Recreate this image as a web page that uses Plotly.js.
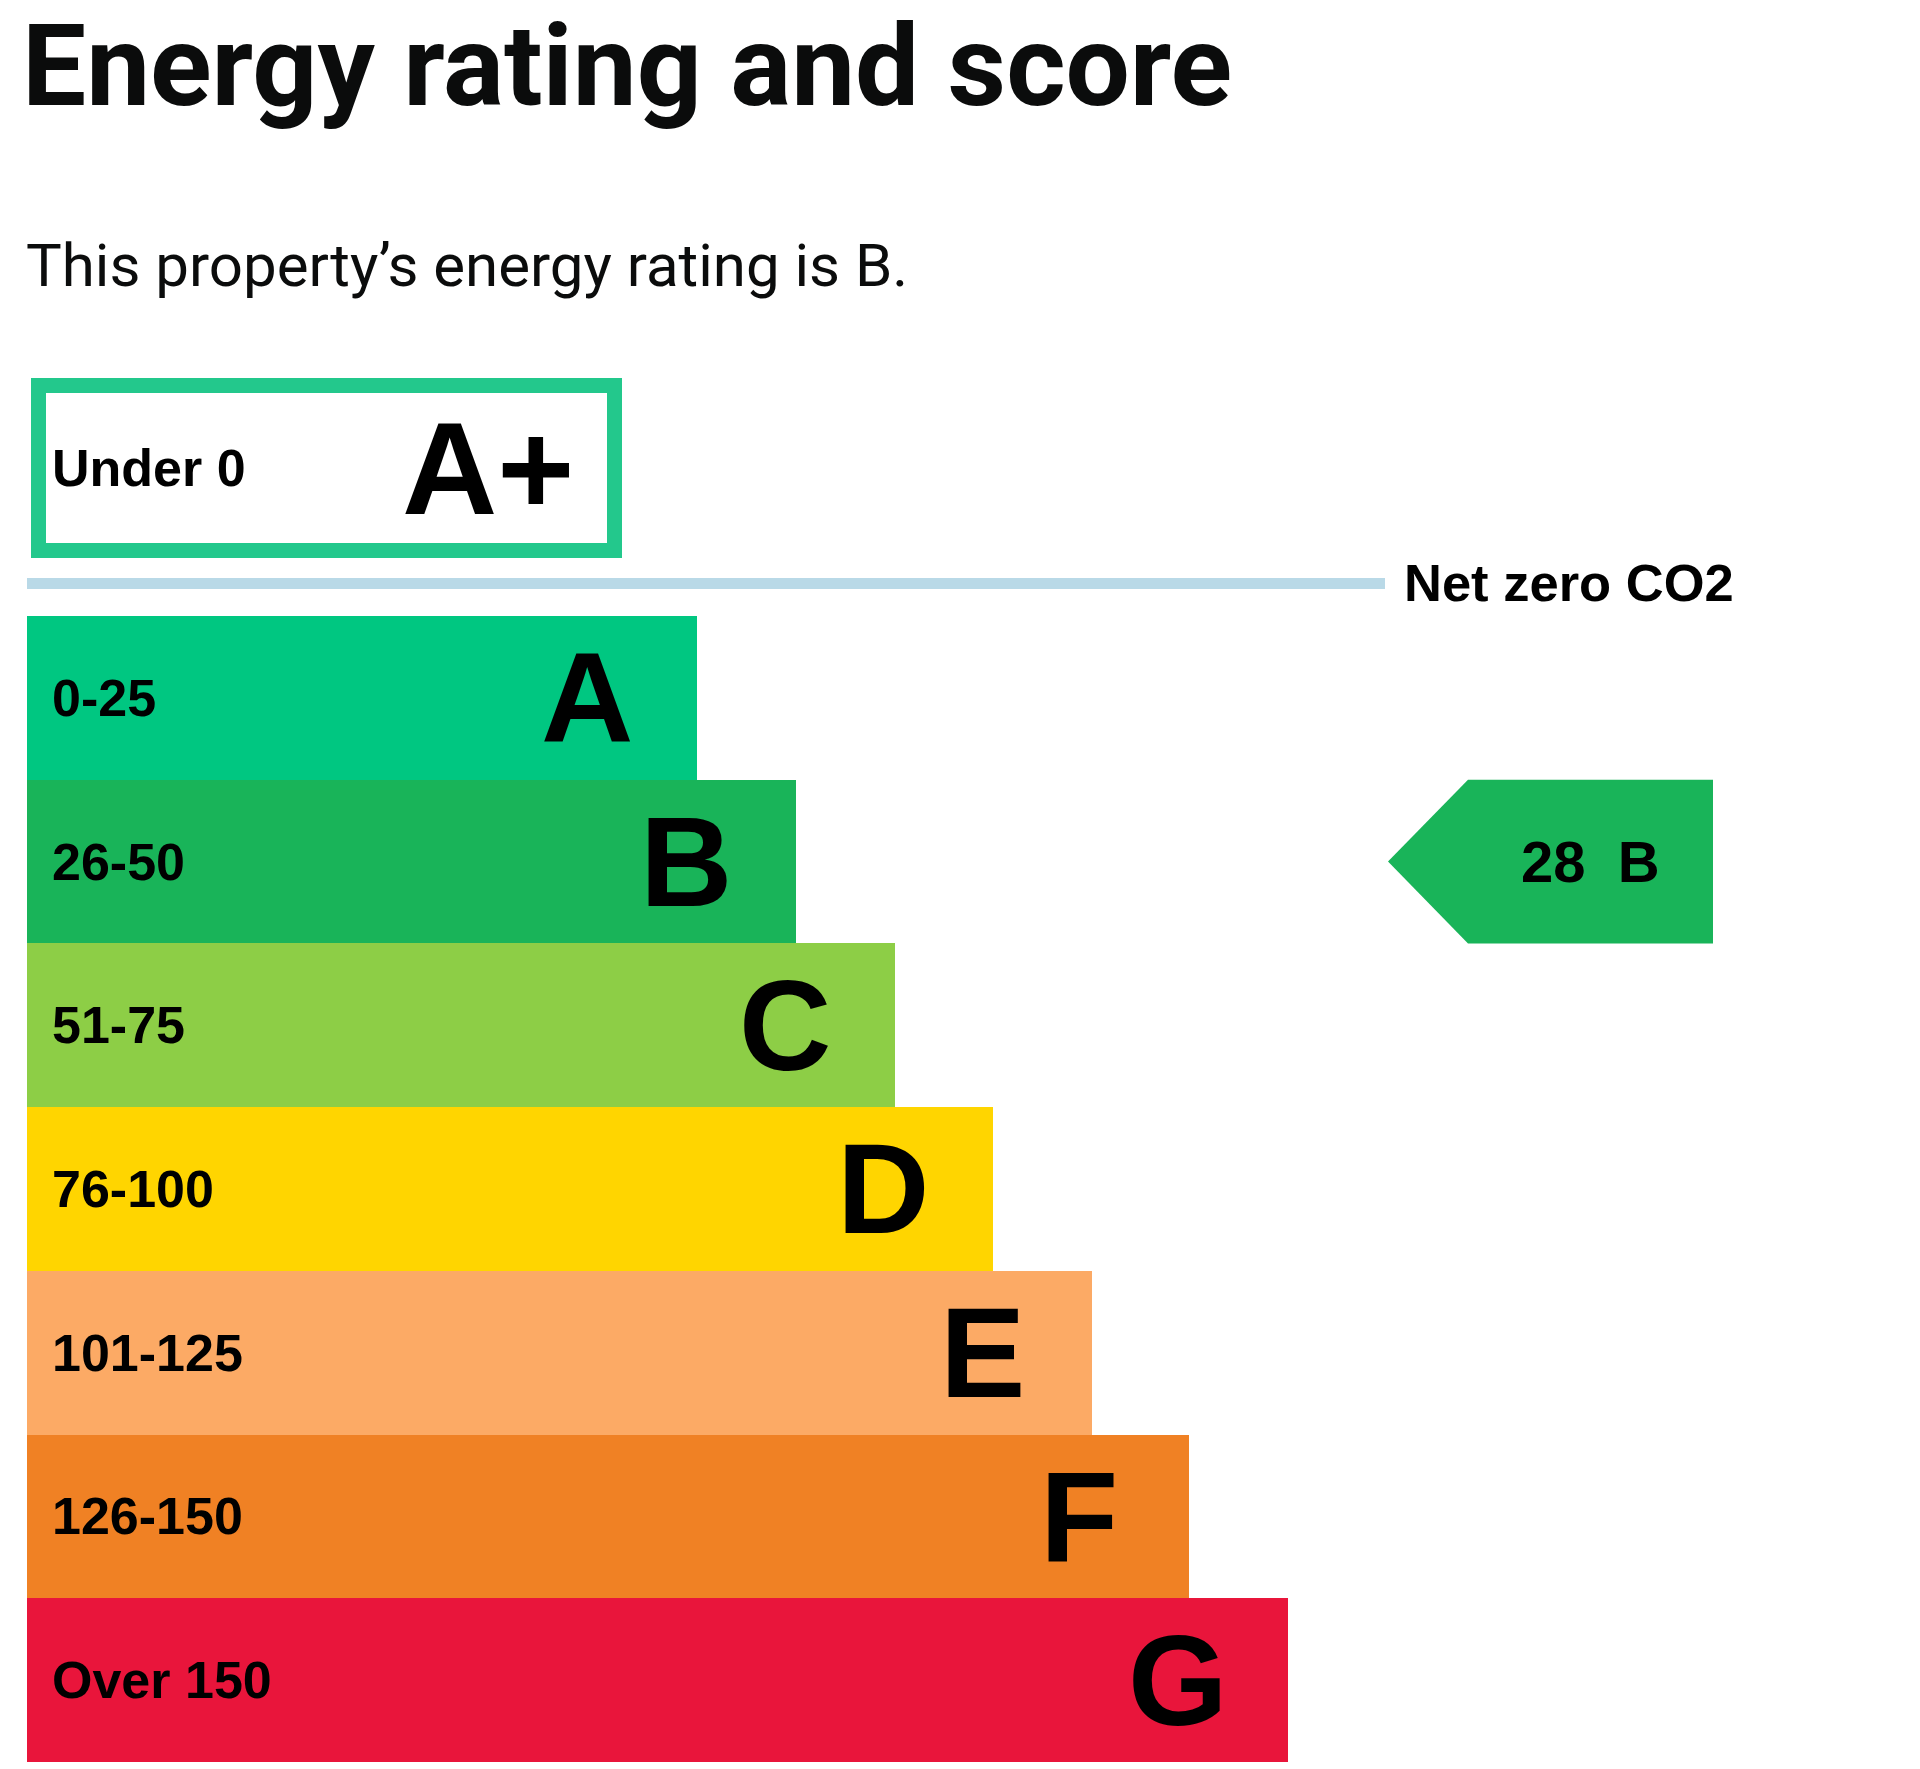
<!DOCTYPE html>
<html>
<head>
<meta charset="utf-8">
<script src="https://cdn.plot.ly/plotly-3.0.1.min.js"></script>
<style>
  html, body { margin: 0; padding: 0; background: #fff; }
  #chart { width: 1920px; height: 1769px; }
</style>
</head>
<body>
<div id="chart"></div>
<script>
// EPC bands, best at the top
const bands = ['A', 'B', 'C', 'D', 'E', 'F', 'G'];
const ranges = ['0-25', '26-50', '51-75', '76-100', '101-125', '126-150', 'Over 150'];
const barLengths = [670, 769, 868, 966, 1065, 1162, 1261];
const bandColors = ['#00c781', '#19b459', '#8dce46', '#ffd500', '#fcaa65', '#f08124', '#e9153b'];

// the A+ row sits above the net zero line, drawn as an outline
const topBand = ['A+'];
const topRange = ['Under 0'];
const topLength = [576];

const currentScore = 28;
const currentBand = 'B';

// page geometry (px)
const W = 1920, H = 1769;
const ROW = 163.7;        // height of one band
const BARS_TOP = 616;     // top edge of band A
const BAR_X0 = 27;
const BOX_TOP = 378, BOX_BOTTOM = 558, BOX_LINE = 15;
const py = p => 1 - p / H;  // px from top -> paper

const labelFont = 'Liberation Sans, Arial, sans-serif';

var bandTrace = {
  type: 'bar',
  orientation: 'h',
  y: bands,
  x: barLengths,
  base: BAR_X0,
  width: 1,
  marker: { color: bandColors, line: { width: 0 } },
  hoverinfo: 'skip'
};

var topTrace = {
  type: 'bar',
  orientation: 'h',
  y: topBand,
  x: topLength,
  base: BAR_X0 + 4 + BOX_LINE / 2,
  width: 1,
  yaxis: 'y2',
  marker: { color: '#ffffff', line: { color: '#23c88c', width: BOX_LINE } },
  hoverinfo: 'skip'
};

var annotations = [
  {
    text: 'Energy rating and score', xref: 'paper', yref: 'paper',
    x: 20 / W, y: py(66), xanchor: 'left', yanchor: 'middle', showarrow: false,
    font: { family: 'Roboto, sans-serif', size: 114, color: '#0b0c0c', weight: 700 }
  },
  {
    text: 'This property\u2019s energy rating is ' + currentBand + '.', xref: 'paper', yref: 'paper',
    x: 24 / W, y: py(265), xanchor: 'left', yanchor: 'middle', showarrow: false,
    font: { family: 'Roboto, sans-serif', size: 60, color: '#0b0c0c' }
  },
  {
    text: '<b>' + topRange[0] + '</b>', xref: 'x', yref: 'y2', x: 50, y: topBand[0],
    xanchor: 'left', yanchor: 'middle', showarrow: false,
    font: { family: labelFont, size: 52, color: '#000' }
  },
  {
    text: '<b>' + topBand[0] + '</b>', xref: 'x', yref: 'y2', x: 400, y: topBand[0],
    xanchor: 'left', yanchor: 'middle', showarrow: false,
    font: { family: labelFont, size: 132, color: '#000' }
  },
  {
    text: '<b>Net zero CO2</b>', xref: 'x', yref: 'paper', x: 1402, y: py(583),
    xanchor: 'left', yanchor: 'middle', showarrow: false,
    font: { family: labelFont, size: 52.5, color: '#000' }
  }
];

bands.forEach(function(b, i) {
  annotations.push({
    text: '<b>' + ranges[i] + '</b>', xref: 'x', yref: 'y', x: 50, y: b,
    xanchor: 'left', yanchor: 'middle', showarrow: false,
    font: { family: labelFont, size: 52, color: '#000' }
  });
  annotations.push({
    text: '<b>' + b + '</b>', xref: 'x', yref: 'y', x: BAR_X0 + barLengths[i] - 110, y: b,
    xanchor: 'center', yanchor: 'middle', showarrow: false,
    font: { family: labelFont, size: 128, color: '#000' }
  });
});

// current rating pointer
var ci = bands.indexOf(currentBand);
var tipX = 1388, bodyX = 1468, endX = 1713;
annotations.push({
  text: '<b>' + currentScore + '\u00a0\u00a0' + currentBand + '</b>', xref: 'x', yref: 'y',
  x: (bodyX + endX) / 2, y: currentBand, xanchor: 'center', yanchor: 'middle', showarrow: false,
  font: { family: labelFont, size: 58, color: '#000' }
});

var shapes = [
  {
    type: 'line', xref: 'x', yref: 'paper', x0: BAR_X0, x1: 1385, y0: py(583.5), y1: py(583.5),
    line: { color: '#b9d9e7', width: 11 }
  },
  {
    type: 'path', xref: 'x', yref: 'y', layer: 'above',
    path: 'M ' + tipX + ',' + ci +
          ' L ' + bodyX + ',' + (ci - 0.5) +
          ' L ' + endX + ',' + (ci - 0.5) +
          ' L ' + endX + ',' + (ci + 0.5) +
          ' L ' + bodyX + ',' + (ci + 0.5) + ' Z',
    fillcolor: bandColors[ci], line: { width: 0 }
  }
];

var yTop = -0.5 - BARS_TOP / ROW;
var yBottom = yTop + H / ROW;

// A+ axis: the whole outer box is the domain, the stroke centre spans one category
var boxHalf = 0.5 * (BOX_BOTTOM - BOX_TOP) / (BOX_BOTTOM - BOX_TOP - BOX_LINE);

var layout = {
  width: W,
  height: H,
  margin: { l: 0, r: 0, t: 0, b: 0, pad: 0 },
  paper_bgcolor: '#ffffff',
  plot_bgcolor: '#ffffff',
  showlegend: false,
  hovermode: false,
  bargap: 0,
  xaxis: { range: [0, W], visible: false, fixedrange: true },
  yaxis: {
    type: 'category', categoryarray: bands, range: [yBottom, yTop],
    visible: false, fixedrange: true
  },
  yaxis2: {
    type: 'category', categoryarray: topBand, range: [boxHalf, -boxHalf],
    domain: [py(BOX_BOTTOM), py(BOX_TOP)], anchor: 'x',
    visible: false, fixedrange: true
  },
  annotations: annotations,
  shapes: shapes
};

Plotly.newPlot('chart', [bandTrace, topTrace], layout, { displayModeBar: false, staticPlot: true });
</script>
</body>
</html>
